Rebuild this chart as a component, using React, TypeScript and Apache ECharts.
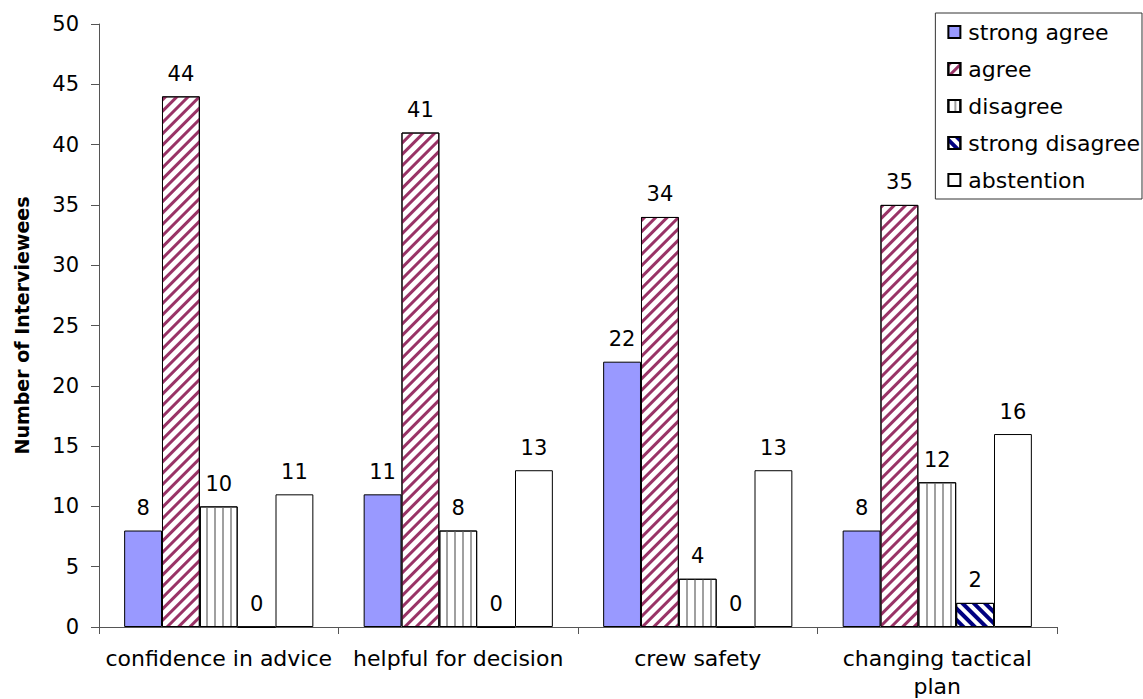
import React, { useEffect, useRef } from "react";
import * as echarts from "echarts";

const categories = ["confidence in advice", "helpful for decision", "crew safety", "changing tactical plan"];
const strongAgree = [8, 11, 22, 8];
const agree = [44, 41, 34, 35];
const disagree = [10, 8, 4, 12];
const strongDisagree = [0, 0, 0, 2];
const abstention = [11, 13, 13, 16];
const yTicks = { min: 0, max: 50, interval: 5 };

const FONT = "'DejaVu Sans', sans-serif";

export default function App() {
  const ref = useRef<HTMLDivElement>(null);
  useEffect(() => {
    if (!ref.current) return;
    const chart = echarts.init(ref.current, null, { renderer: "svg" });
    const label = {
      show: true,
      position: "top",
      distance: 12,
      color: "#000",
      fontSize: 21,
      fontFamily: FONT,
    };
    const border = { borderColor: "#000", borderWidth: 1 };
    const mk = (name: string, data: number[], itemStyle: any) => ({
      name,
      type: "bar",
      data,
      barGap: "0%",
      barCategoryGap: "21%",
      label,
      itemStyle: { ...border, ...itemStyle },
      emphasis: { disabled: true },
    });
    chart.setOption({
      animation: false,
      textStyle: { fontFamily: FONT },
      grid: { left: 99, right: 86, top: 24, bottom: 72, containLabel: false, outerBoundsMode: "none" },
      legend: {
        orient: "vertical",
        right: 1,
        top: 13,
        borderColor: "#333",
        borderWidth: 1,
        padding: [8, 2, 8, 12],
        itemGap: 15,
        itemWidth: 12,
        itemHeight: 12,
        icon: "rect",
        textStyle: { fontSize: 22, color: "#000", fontFamily: FONT, padding: [0, 0, 0, 3], lineHeight: 22 },
        data: ["strong agree", "agree", "disagree", "strong disagree", "abstention"],
      },
      xAxis: {
        type: "category",
        data: categories,
        axisLine: { lineStyle: { color: "#555" } },
        axisTick: { show: true, alignWithLabel: false, length: 7, lineStyle: { color: "#555" } },
        axisLabel: {
          color: "#000",
          fontSize: 22,
          lineHeight: 28,
          margin: 17,
          interval: 0,
          fontFamily: FONT,
          formatter: (v: string) => (v === "changing tactical plan" ? "changing tactical\nplan" : v),
        },
      },
      yAxis: {
        type: "value",
        min: yTicks.min,
        max: yTicks.max,
        interval: yTicks.interval,
        name: "Number of Interviewees",
        nameLocation: "middle",
        nameGap: 68,
        nameTextStyle: { fontSize: 19, fontWeight: "bold", color: "#000", fontFamily: FONT },
        axisLine: { show: true, lineStyle: { color: "#555" } },
        axisTick: { show: true, length: 8, lineStyle: { color: "#555" } },
        splitLine: { show: false },
        axisLabel: { color: "#000", fontSize: 21, margin: 20, fontFamily: FONT },
      },
      series: [
        mk("strong agree", strongAgree, { color: "#9999FF" }),
        mk("agree", agree, {
          color: "#ffffff",
          decal: {
            symbol: "rect",
            symbolSize: 1,
            color: "#993366",
            backgroundColor: "#ffffff",
            dashArrayX: [1, 0],
            dashArrayY: [3, 5],
            rotation: -Math.PI / 4,
          },
        }),
        mk("disagree", disagree, {
          color: "#ffffff",
          decal: {
            symbol: "rect",
            symbolSize: 1,
            color: "#a0a0a0",
            backgroundColor: "#ffffff",
            dashArrayX: [1, 0],
            dashArrayY: [2, 6],
            rotation: Math.PI / 2,
          },
        }),
        mk("strong disagree", strongDisagree, {
          color: "#ffffff",
          decal: {
            symbol: "rect",
            symbolSize: 1,
            color: "#000080",
            backgroundColor: "#ffffff",
            dashArrayX: [1, 0],
            dashArrayY: [4, 4],
            rotation: Math.PI / 4,
          },
        }),
        mk("abstention", abstention, { color: "#ffffff" }),
      ],
    });
    return () => chart.dispose();
  }, []);
  return (
    <div
      ref={ref}
      style={{ position: "fixed", left: 0, top: 0, width: 1143, height: 699, background: "#fff" }}
    />
  );
}
